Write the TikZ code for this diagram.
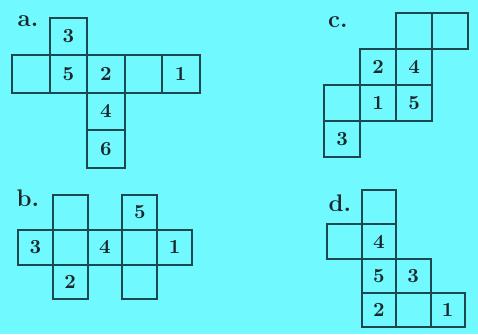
\documentclass[tikz,border=0pt]{standalone}
\usetikzlibrary{positioning}
\definecolor{bgcyan}{RGB}{112,250,255}
\definecolor{netline}{RGB}{30,72,80}
\definecolor{digitcol}{RGB}{25,40,45}
\tikzset{
  cell/.style={draw=netline, line width=1pt, minimum size=#1, inner sep=0pt,
    text=digitcol, font=\bfseries},
  tag/.style={text=digitcol, font=\large\bfseries, inner sep=0pt}
}
\begin{document}
\begin{tikzpicture}[x=0.5pt, y=-0.5pt]
    % Background
    \fill[bgcyan] (0,0) rectangle (478,334);
    \useasboundingbox (0,0) rectangle (478,334);
    % Net a
    \node[tag] (la) at (28,21) {a.};
    \node[cell=18.75pt] (a3) at (68.25,36.25) {3};
    \node[cell=18.75pt] (ae1) at (30.75,73.75) {};
    \node[cell=18.75pt] (a5) at (68.25,73.75) {5};
    \node[cell=18.75pt] (a2) at (105.75,73.75) {2};
    \node[cell=18.75pt] (ae2) at (143.25,73.75) {};
    \node[cell=18.75pt] (a1) at (180.75,73.75) {1};
    \node[cell=18.75pt] (a4) at (105.75,111.25) {4};
    \node[cell=18.75pt] (a6) at (105.75,148.75) {6};
    % Net b
    \node[tag] (lb) at (28,198) {b.};
    \node[cell=17.4pt] (be1) at (70.2,212.4) {};
    \node[cell=17.4pt] (b5) at (139.8,212.4) {5};
    \node[cell=17.4pt] (b3) at (35.4,247.2) {3};
    \node[cell=17.4pt] (be2) at (70.2,247.2) {};
    \node[cell=17.4pt] (b4) at (105,247.2) {4};
    \node[cell=17.4pt] (be3) at (139.8,247.2) {};
    \node[cell=17.4pt] (b1) at (174.6,247.2) {1};
    \node[cell=17.4pt] (b2) at (70.2,282) {2};
    \node[cell=17.4pt] (be4) at (139.8,282) {};
    % Net c
    \node[tag] (lc) at (338,22) {c.};
    \node[cell=18pt] (ce1) at (414,31) {};
    \node[cell=18pt] (ce2) at (450,31) {};
    \node[cell=18pt] (c2) at (378,67) {2};
    \node[cell=18pt] (c4) at (414,67) {4};
    \node[cell=18pt] (ce3) at (342,103) {};
    \node[cell=18pt] (c1) at (378,103) {1};
    \node[cell=18pt] (c5) at (414,103) {5};
    \node[cell=18pt] (c3) at (342,139) {3};
    % Net d
    \node[tag] (ld) at (340,203) {d.};
    \node[cell=17.25pt] (de1) at (378.75,207.15) {};
    \node[cell=17.25pt] (de2) at (344.25,241.45) {};
    \node[cell=17.25pt] (d4) at (378.75,241.45) {4};
    \node[cell=17.25pt] (d5) at (378.75,275.75) {5};
    \node[cell=17.25pt] (d3) at (413.25,275.75) {3};
    \node[cell=17.25pt] (d2) at (378.75,310.05) {2};
    \node[cell=17.25pt] (de3) at (413.25,310.05) {};
    \node[cell=17.25pt] (d1) at (447.75,310.05) {1};
\end{tikzpicture}
\end{document}
